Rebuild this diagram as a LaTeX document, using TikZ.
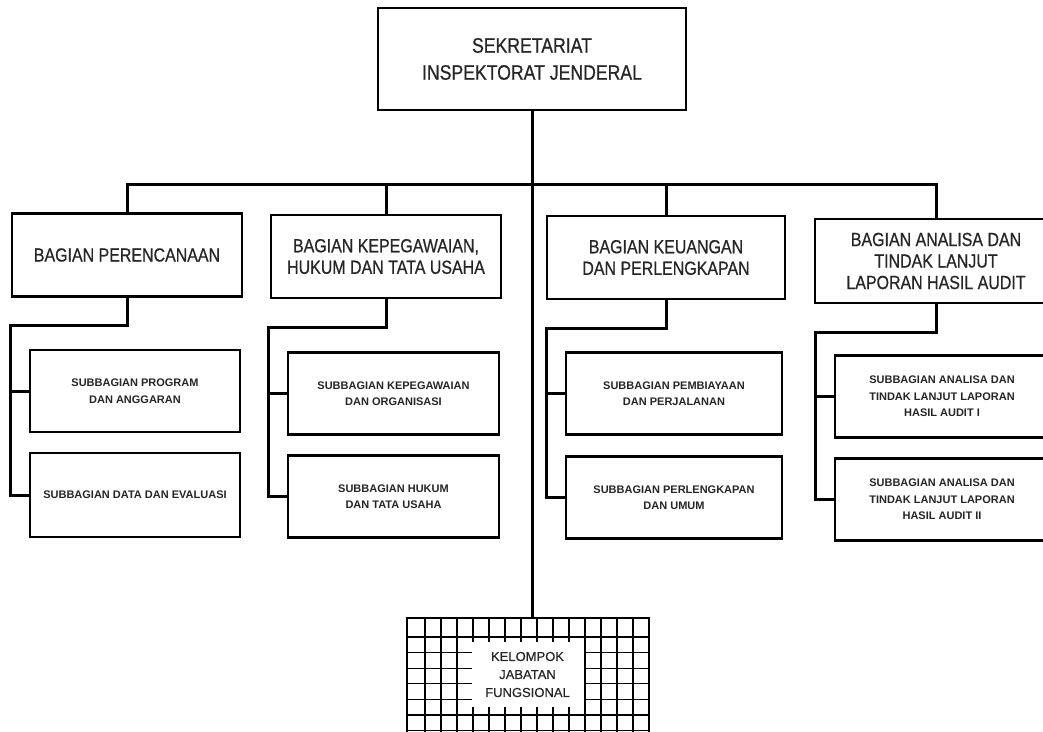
\documentclass[tikz,border=0pt]{standalone}
\usepackage{fontspec}
\setmainfont{Liberation Sans}
\newfontfamily\narrowfont[FakeStretch=0.84, FakeBold=0.6]{Liberation Sans}
\newfontfamily\plainfont[FakeBold=0.5]{Liberation Sans}
\tikzset{
	orgbox/.style={draw, line width=2.4pt, fill=white, align=center, inner sep=2pt, text=black!85},
	topbox/.style={orgbox, font=\narrowfont\fontsize{21}{27}\selectfont},
	bagbox/.style={orgbox, minimum height=83pt, font=\narrowfont\fontsize{19}{21.5}\selectfont},
	subbox/.style={orgbox, minimum height=82pt, font=\fontsize{11}{16.5}\selectfont\bfseries},
	conn/.style={line width=3pt},
	gridline/.style={line width=1.3pt}
}
\begin{document}
\begin{tikzpicture}[x=1pt, y=-1pt]
	
	\useasboundingbox (0,0) rectangle (1043,731);
	\clip (0,0) rectangle (1043,731);
	
	% Sekretariat
	\node[topbox, minimum width=308pt, minimum height=102pt] (sekr) at (532,59) {SEKRETARIAT\\INSPEKTORAT JENDERAL};
	
	% Bagian
	\node[bagbox, minimum width=230pt] (bag1) at (127,255) {BAGIAN PERENCANAAN};
	\node[bagbox, minimum width=230pt] (bag2) at (386,256.5) {BAGIAN KEPEGAWAIAN,\\HUKUM DAN TATA USAHA};
	\node[bagbox, minimum width=238pt] (bag3) at (666,257.5) {BAGIAN KEUANGAN\\DAN PERLENGKAPAN};
	\node[bagbox, minimum width=242pt, minimum height=84pt] (bag4) at (936,261) {BAGIAN ANALISA DAN\\TINDAK LANJUT\\LAPORAN HASIL AUDIT};
	
	% Subbagian
	\node[subbox, minimum width=210pt] (sub1a) at (135,391) {SUBBAGIAN PROGRAM\\DAN ANGGARAN};
	\node[subbox, minimum width=210pt, minimum height=84pt] (sub1b) at (135,495) {SUBBAGIAN DATA DAN EVALUASI};
	\node[subbox, minimum width=211pt] (sub2a) at (393.5,393.5) {SUBBAGIAN KEPEGAWAIAN\\DAN ORGANISASI};
	\node[subbox, minimum width=211pt] (sub2b) at (393.5,496.5) {SUBBAGIAN HUKUM\\DAN TATA USAHA};
	\node[subbox, minimum width=216pt] (sub3a) at (674,393.5) {SUBBAGIAN PEMBIAYAAN\\DAN PERJALANAN};
	\node[subbox, minimum width=216pt] (sub3b) at (674,497.5) {SUBBAGIAN PERLENGKAPAN\\DAN UMUM};
	\node[subbox, minimum width=214pt] (sub4a) at (942,396.5) {SUBBAGIAN ANALISA DAN\\TINDAK LANJUT LAPORAN\\HASIL AUDIT I};
	\node[subbox, minimum width=214pt] (sub4b) at (942,499.5) {SUBBAGIAN ANALISA DAN\\TINDAK LANJUT LAPORAN\\HASIL AUDIT II};
	
	% Kelompok Jabatan Fungsional
	\node[draw, line width=2.4pt, fill=white, minimum width=242pt, minimum height=142pt] (kjf) at (528,689) {};
	\begin{scope}
	\clip (kjf.south west) rectangle (kjf.north east);
	\foreach \k in {1,...,14}
		\draw[gridline] (409+16*\k,618) -- (409+16*\k,760);
	\foreach \k in {0,...,6}
		\draw[gridline] (407,637+15.6*\k) -- (649,637+15.6*\k);
	\end{scope}
	\node[fill=white, minimum width=112pt, minimum height=65pt, align=center, inner sep=0pt,
		text=black!85, font=\plainfont\fontsize{13}{18}\selectfont] (kjftext) at (527.5,674.5) {KELOMPOK\\JABATAN\\FUNGSIONAL};
	
	% Garis Komando
	\coordinate (bus) at (532,184);
	\draw[conn] (sekr.south) -- (sekr.south |- kjf.north);
	\draw[conn] (bag1.north) |- (bus) -| (bag4.north);
	\foreach \i in {2,3}
		\draw[conn] (bag\i.north) -- (bag\i.north |- bus);
	
	% Bagian ke Subbagian
	\foreach \i in {1,...,4} {
		\draw[conn] (bag\i.south) -- ++(0,28) -| ([xshift=-18pt]sub\i b.west) -- (sub\i b.west);
		\draw[conn] ([xshift=-18pt]sub\i a.west) -- (sub\i a.west);
	}
	
\end{tikzpicture}
\end{document}
